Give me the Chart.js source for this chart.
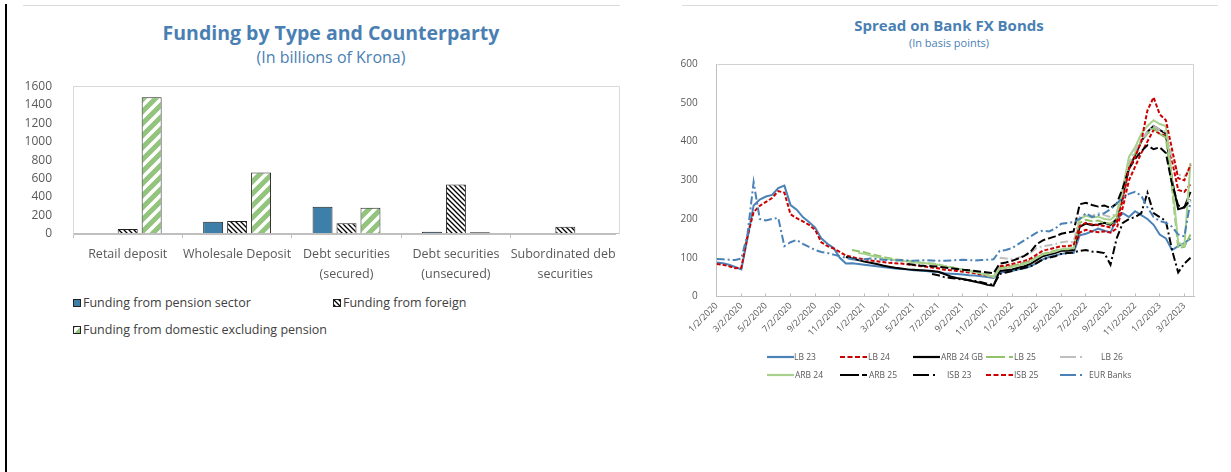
<!DOCTYPE html>
<html>
<head>
<meta charset="utf-8">
<script src="https://cdn.jsdelivr.net/npm/chart.js@4.4.1/dist/chart.umd.min.js"></script>
<style>
  html, body { margin: 0; padding: 0; background: #fff; }
  body { width: 1231px; height: 472px; position: relative; overflow: hidden; font-family: 'Open Sans', sans-serif; }
  .edge { position: absolute; left: 5px; top: 4px; bottom: 0; width: 2px; background: #000; }
  .rule { position: absolute; height: 1px; background: #dcdcdc; }
  .ttl { position: absolute; text-align: center; color: #4a7fb3; white-space: nowrap; }
  .lgtxt { position: absolute; white-space: nowrap; color: #404040; font-size: 12.5px; line-height: 16px; }
  .rltxt { position: absolute; white-space: nowrap; color: #595959; font-size: 8.5px; line-height: 12px; }
  canvas.abs, svg.abs { position: absolute; }
</style>
</head>
<body>
<div class="edge"></div>
<div class="rule" style="left:23px; width:597px; top:5px;"></div>
<div class="rule" style="left:682px; width:536px; top:5px;"></div>

<div class="ttl" style="left:0; width:662px; top:19px; font-size:19.5px; line-height:28px; font-weight:700;">Funding by Type and Counterparty</div>
<div class="ttl" style="left:0; width:662px; top:46px; font-size:16px; line-height:22px;">(In billions of Krona)</div>

<div class="ttl" style="left:749px; width:400px; top:15px; font-size:15px; line-height:20px; font-weight:700;">Spread on Bank FX Bonds</div>
<div class="ttl" style="left:749px; width:400px; top:36px; font-size:11px; line-height:14px;">(In basis points)</div>

<canvas id="funding" class="abs" width="605" height="215" style="left:20px; top:75px;"></canvas>
<canvas id="spreads" class="abs" width="551" height="300" style="left:680px; top:55px;"></canvas>

<div id="fundingLegend"></div>
<div id="spreadLegend"></div>

<script>
// ---- Funding by type and counterparty (billions of krona) ----
const fundingTypes = [
  'Retail deposit',
  'Wholesale Deposit',
  ['Debt securities', '(secured)'],
  ['Debt securities', '(unsecured)'],
  ['Subordinated debt', 'securities']
];
const pensionFunding  = [0, 133, 295, 25, 8];
const foreignFunding  = [54, 140, 116, 537, 79];
const domesticFunding = [1480, 667, 284, 20, 8];
const fundingTicks = { min: 0, max: 1600, step: 200 };

// ---- Spread on bank FX bonds (basis points), semi-monthly observations from 2 Jan 2020 ----
const tickDates = [
  '1/2/2020', '3/2/2020', '5/2/2020', '7/2/2020', '9/2/2020', '11/2/2020',
  '1/2/2021', '3/2/2021', '5/2/2021', '7/2/2021', '9/2/2021', '11/2/2021',
  '1/2/2022', '3/2/2022', '5/2/2022', '7/2/2022', '9/2/2022', '11/2/2022',
  '1/2/2023', '3/2/2023'
];
const lb23 = [
  88, 86, 82, 76, 70, 150, 235, 250, 258, 262,
  280, 286, 236, 224, 205, 192, 178, 150, 136,
  125, 100, 85, 86, 84, 82, 80, 78, 76, 74,
  72, 71, 70, 68, 67, 66, 64, 63, 60,
  59, 58, 57, 55, 54, 52, 50, 48, 62, 64,
  66, 70, 73, 78, 86, 96, 102, 106, 110,
  112, 112, 158, 162, 168, 175, 170, 165, 200, 215,
  205, 220, 210, 200, 185, 160, 150, 120, 130,
  138, 150
];
const lb24 = [
  84, 82, 78, 73, 74, 155, 218, 234, 244, 254,
  272, 268, 212, 202, 194, 185, 172, 140, 130,
  124, 115, 106, 102, 98, 96, 93, 91, 89, 87,
  86, 85, 83, 81, 79, 77, 75, 73, 69,
  68, 66, 64, 62, 60, 57, 54, 50, 72, 75,
  78, 82, 86, 92, 100, 108, 112, 115, 120,
  120, 122, 165, 172, 168, 166, 168, 165, 175, 230,
  300, 335, 370, 400, 430, 420, 415, 350, 275,
  270, 290
];
const arb24gb = [
  null, null, null, null, null, null, null, null, null, null,
  null, null, null, null, null, null, null, null, null,
  null, null, 102, 98, 94, 90, 87, 84, 80, 77,
  74, 72, 70, 69, 68, 67, 66, 64, 58,
  52, 48, 45, 42, 38, 35, 30, 28, 66, 68,
  70, 74, 78, 84, 94, 104, 108, 112, 118,
  118, 120, 180, 188, 184, 186, 190, 185, 200, 260,
  330, 365, 400, 425, 440, 430, 420, 300, 225,
  230, 270
];
const lb25 = [
  null, null, null, null, null, null, null, null, null, null,
  null, null, null, null, null, null, null, null, null,
  null, null, null, 120, 117, 114, 110, 106, 102, 99,
  96, 94, 92, 90, 88, 86, 85, 83, 79,
  76, 73, 70, 67, 64, 60, 56, 52, 74, 76,
  78, 82, 86, 92, 102, 110, 114, 118, 122,
  122, 124, 190, 198, 194, 196, 190, 188, 200, 265,
  340, 370, 400, 420, 435, 420, 410, 280, 125,
  128, 160
];
const lb26 = [
  null, null, null, null, null, null, null, null, null, null,
  null, null, null, null, null, null, null, null, null,
  null, null, null, null, null, null, null, null, null, null,
  null, null, null, null, null, null, null, null, null,
  null, null, null, null, null, null, null, null, 100, 98,
  96, 100, 105, 112, 125, 130, 132, 135, 140,
  142, 140, 205, 212, 208, 215, 210, 205, 215, 275,
  345, 375, 405, 425, 440, 430, 425, 360, 315,
  310, 330
];
const arb24 = [
  null, null, null, null, null, null, null, null, null, null,
  null, null, null, null, null, null, null, null, null,
  null, null, null, null, 112, 110, 106, 102, 99, 96,
  94, 92, 90, 88, 87, 86, 84, 82, 78,
  75, 72, 69, 66, 63, 59, 55, 50, 72, 74,
  76, 80, 84, 90, 100, 108, 112, 116, 122,
  124, 125, 200, 208, 204, 206, 200, 198, 212, 280,
  360, 385, 420, 440, 455, 445, 440, 300, 140,
  130, 345
];
const arb25 = [
  null, null, null, null, null, null, null, null, null, null,
  null, null, null, null, null, null, null, null, null,
  null, null, null, null, null, null, null, null, null, null,
  null, null, 84, 82, 80, 79, 78, 77, 75,
  73, 71, 69, 68, 66, 64, 62, 60, 85, 88,
  92, 98, 105, 115, 135, 145, 150, 155, 162,
  165, 168, 238, 242, 236, 232, 235, 228, 240, 280,
  330, 355, 375, 390, 380, 385, 370, 290, 235,
  230, 250
];
const isb23 = [
  null, null, null, null, null, null, null, null, null, null,
  null, null, null, null, null, null, null, null, null,
  null, null, null, null, null, null, null, null, null, null,
  null, null, null, null, null, null, 58, 55, 50,
  48, 46, 44, 42, 40, 37, 33, 30, 58, 62,
  66, 70, 74, 78, 86, 96, 100, 104, 110,
  112, 114, 118, 120, 116, 115, 112, 82, 150, 190,
  200, 205, 215, 268, 215, 205, 195, 120, 62,
  85, 100
];
const isb25 = [
  null, null, null, null, null, null, null, null, null, null,
  null, null, null, null, null, null, null, null, null,
  null, null, null, null, null, null, null, null, null, null,
  null, null, null, null, null, null, null, null, null,
  null, null, null, null, null, null, null, null, 78, 80,
  84, 88, 92, 98, 108, 118, 122, 126, 130,
  130, 132, 182, 190, 186, 184, 182, 178, 190, 250,
  330, 360, 400, 480, 514, 470, 455, 380, 305,
  300, 340
];
const eurBanks = [
  97, 96, 95, 94, 98, 160, 295, 200, 196, 200,
  203, 130, 140, 146, 136, 128, 120, 115, 112,
  108, 104, 100, 96, 95, 96, 98, 97, 95, 94,
  93, 94, 93, 92, 93, 94, 93, 92, 92,
  93, 94, 95, 94, 93, 94, 95, 96, 118, 120,
  125, 135, 145, 155, 165, 170, 168, 175, 188,
  190, 192, 200, 215, 205, 210, 215, 225, 240, 255,
  265, 270, 260, 230, 205, 195, 190, 180, 160,
  155, 245
];
// months elapsed since 2 Jan 2020 for each observation (two per month)
const obsMonth = lb23.map((_, j) => j / 2);

Chart.defaults.font.family = "'Open Sans', sans-serif";

// Fill patterns for the bars
function hatchFill() {
  const s = 5, c = document.createElement('canvas');
  c.width = c.height = s;
  const g = c.getContext('2d');
  g.fillStyle = '#fff'; g.fillRect(0, 0, s, s);
  g.strokeStyle = '#000'; g.lineWidth = 1.3;
  g.beginPath();
  g.moveTo(-1, -1); g.lineTo(s + 1, s + 1);
  g.moveTo(-1, s - 1); g.lineTo(1, s + 1);
  g.moveTo(s - 1, -1); g.lineTo(s + 1, 1);
  g.stroke();
  return g.createPattern(c, 'repeat');
}
function stripeFill() {
  const s = 12, c = document.createElement('canvas');
  c.width = c.height = s;
  const g = c.getContext('2d');
  g.fillStyle = '#fff'; g.fillRect(0, 0, s, s);
  g.strokeStyle = '#93c47d'; g.lineWidth = 5;
  g.beginPath();
  g.moveTo(-2, s + 2); g.lineTo(s + 2, -2);
  g.moveTo(-3, 3); g.lineTo(3, -3);
  g.moveTo(s - 3, s + 3); g.lineTo(s + 3, s - 3);
  g.stroke();
  return g.createPattern(c, 'repeat');
}
const hatch = hatchFill();
const stripes = stripeFill();

// Light frame round the plot area; optional clip just inside the right edge
const plotFrame = {
  id: 'plotFrame',
  beforeDraw(chart, args, opts) {
    if (opts.clipInset) {
      const ctx = chart.ctx;
      ctx.save();
      ctx.beginPath();
      ctx.rect(0, 0, chart.chartArea.right - opts.clipInset, chart.height);
      ctx.clip();
    }
  },
  afterDraw(chart, args, opts) {
    const ctx = chart.ctx;
    if (opts.clipInset) ctx.restore();
    const a = chart.chartArea;
    const l = Math.round(a.left) + 0.5, r = Math.round(a.right) - 0.5;
    const t = Math.round(a.top) + 0.5, b = Math.round(a.bottom) - 0.5;
    ctx.save();
    ctx.lineWidth = 1;
    ctx.strokeStyle = opts.color || '#d9d9d9';
    ctx.beginPath();
    ctx.moveTo(l, t); ctx.lineTo(r, t); ctx.lineTo(r, b);
    ctx.stroke();
    if (opts.baseColor) {
      ctx.strokeStyle = opts.baseColor;
      ctx.beginPath();
      ctx.moveTo(l, b); ctx.lineTo(r, b);
      ctx.stroke();
    }
    ctx.restore();
  }
};

// Size and place a canvas so that its plot area lands on the given page box
function placePlot(chart, box) {
  const cv = chart.canvas;
  for (let k = 0; k < 2; k++) {
    const a = chart.chartArea;
    const w = Math.round(cv.width + (box.right - box.left) - (a.right - a.left));
    const h = Math.round(cv.height + (box.bottom - box.top) - (a.bottom - a.top));
    if (w !== cv.width || h !== cv.height) chart.resize(w, h);
  }
  const a = chart.chartArea;
  cv.style.left = Math.round(box.left - a.left) + 'px';
  cv.style.top = Math.round(box.top - a.top) + 'px';
}

const fundingSeries = [
  { label: 'Funding from pension sector', data: pensionFunding, fill: '#3d7fa8' },
  { label: 'Funding from foreign', data: foreignFunding, fill: hatch },
  { label: 'Funding from domestic excluding pension', data: domesticFunding, fill: stripes }
];

const fundingChart = new Chart(document.getElementById('funding'), {
  type: 'bar',
  data: {
    labels: fundingTypes,
    datasets: fundingSeries.map(s => ({
      label: s.label,
      data: s.data,
      backgroundColor: s.fill,
      borderColor: '#222',
      borderWidth: 1,
      borderSkipped: false,
      categoryPercentage: 0.657,
      barPercentage: 0.833
    }))
  },
  options: {
    responsive: false,
    maintainAspectRatio: false,
    animation: false,
    events: [],
    layout: { padding: 0 },
    plugins: {
      legend: { display: false },
      tooltip: { enabled: false },
      plotFrame: { clipInset: 4, color: '#d9d9d9', baseColor: '#bfbfbf' }
    },
    scales: {
      x: {
        grid: { drawOnChartArea: false, tickLength: 4, color: '#bfbfbf', offset: true },
        border: { color: '#bfbfbf' },
        ticks: {
          color: '#595959',
          font: { size: 12.5, lineHeight: 1.6 },
          padding: 6,
          maxRotation: 0,
          autoSkip: false
        },
        afterFit: s => { s.height = 56; }
      },
      y: {
        min: fundingTicks.min,
        max: fundingTicks.max,
        ticks: {
          stepSize: fundingTicks.step,
          autoSkip: false,
          color: '#595959',
          font: { size: 12 },
          padding: 13,
          callback: v => String(v)
        },
        grid: { display: false },
        border: { color: '#d9d9d9' },
        afterFit: s => { s.width = 53; }
      }
    }
  },
  plugins: [plotFrame]
});
placePlot(fundingChart, { left: 73, top: 86, right: 620, bottom: 234 });

// Spread series with their line styles
const spreadSeries = [
  { label: 'LB 23',     data: lb23,     color: '#4a82b8', dash: [],           legendDash: '' },
  { label: 'LB 24',     data: lb24,     color: '#cc0000', dash: [4, 2],       legendDash: '5,2.5' },
  { label: 'ARB 24 GB', data: arb24gb,  color: '#000000', dash: [],           legendDash: '' },
  { label: 'LB 25',     data: lb25,     color: '#92c26b', dash: [8, 3],       legendDash: '19,4,5' },
  { label: 'LB 26',     data: lb26,     color: '#bfbfbf', dash: [8, 3, 2, 3], legendDash: '16,4,2,20' },
  { label: 'ARB 24',    data: arb24,    color: '#a9d18e', dash: [],           legendDash: '' },
  { label: 'ARB 25',    data: arb25,    color: '#000000', dash: [8, 3],       legendDash: '19,3,5' },
  { label: 'ISB 23',    data: isb23,    color: '#000000', dash: [8, 3, 2, 3], legendDash: '16,4,2,20' },
  { label: 'ISB 25',    data: isb25,    color: '#cc0000', dash: [4, 2],       legendDash: '5,2.5' },
  { label: 'EUR Banks', data: eurBanks, color: '#4a82b8', dash: [8, 3, 2, 3], legendDash: '16,4,2,20' }
];

const spreadChart = new Chart(document.getElementById('spreads'), {
  type: 'line',
  data: {
    labels: obsMonth,
    datasets: spreadSeries.map((s, i) => ({
      label: s.label,
      data: s.data,
      borderColor: s.color,
      backgroundColor: s.color,
      borderDash: s.dash,
      borderWidth: 2,
      pointRadius: 0,
      tension: 0,
      fill: false,
      order: spreadSeries.length - i
    }))
  },
  options: {
    responsive: false,
    maintainAspectRatio: false,
    animation: false,
    events: [],
    layout: { padding: 0 },
    plugins: {
      legend: { display: false },
      tooltip: { enabled: false },
      plotFrame: { color: '#d0d0d0' }
    },
    scales: {
      x: {
        type: 'linear',
        min: 0,
        max: 38.8,
        afterBuildTicks: s => { s.ticks = tickDates.map((_, k) => ({ value: 2 * k })); },
        ticks: {
          autoSkip: false,
          minRotation: 45,
          maxRotation: 45,
          color: '#595959',
          font: { size: 9 },
          padding: 7,
          callback: (v, i) => tickDates[i]
        },
        grid: { drawOnChartArea: false, tickLength: -3, color: '#bfbfbf' },
        border: { color: '#bfbfbf' },
        afterFit: s => { s.height = 59.5; }
      },
      y: {
        min: 0,
        max: 600,
        ticks: { stepSize: 100, autoSkip: false, color: '#595959', font: { size: 10 }, padding: 11, callback: v => String(v) },
        grid: { display: false },
        border: { color: '#bfbfbf' },
        afterFit: s => { s.width = 36.7; }
      }
    }
  },
  plugins: [plotFrame]
});
placePlot(spreadChart, { left: 717, top: 64, right: 1194, bottom: 296 });

// ---- Legends ----
function swatch(fill, x, y) {
  const c = document.createElement('canvas');
  c.width = 8; c.height = 8;
  c.className = 'abs';
  c.style.left = x + 'px'; c.style.top = y + 'px';
  const g = c.getContext('2d');
  g.fillStyle = fill; g.fillRect(0, 0, 8, 8);
  g.strokeStyle = '#222'; g.lineWidth = 1; g.strokeRect(0.5, 0.5, 7, 7);
  return c;
}
function textAt(cls, txt, x, y) {
  const d = document.createElement('div');
  d.className = cls; d.textContent = txt;
  d.style.left = x + 'px'; d.style.top = y + 'px';
  return d;
}
const fundingLegendPos = [[73, 303], [333, 303], [73, 330]];
const fl = document.getElementById('fundingLegend');
fundingSeries.forEach((s, i) => {
  const [x, yc] = fundingLegendPos[i];
  fl.appendChild(swatch(s.fill, x, yc - 4));
  fl.appendChild(textAt('lgtxt', s.label, x + 10, yc - 8));
});

const spreadLegendPos = [
  [767, 357, 27, 794], [840, 357, 27, 868], [913, 357, 27, 941], [986, 357, 27, 1014], [1060, 357, 24, 1101],
  [767, 375, 27, 795], [840, 375, 28, 869], [913, 375, 24, 947], [986, 375, 27, 1014], [1060, 375, 24, 1089]
];
const svgNS = 'http://www.w3.org/2000/svg';
const sl = document.getElementById('spreadLegend');
spreadSeries.forEach((s, i) => {
  const [x, yc, w, tx] = spreadLegendPos[i];
  const svg = document.createElementNS(svgNS, 'svg');
  svg.setAttribute('class', 'abs');
  svg.setAttribute('width', w); svg.setAttribute('height', 6);
  svg.style.left = x + 'px'; svg.style.top = (yc - 3) + 'px';
  const ln = document.createElementNS(svgNS, 'line');
  ln.setAttribute('x1', 0); ln.setAttribute('x2', w);
  ln.setAttribute('y1', 3); ln.setAttribute('y2', 3);
  ln.setAttribute('stroke', s.color); ln.setAttribute('stroke-width', 2.2);
  if (s.legendDash) ln.setAttribute('stroke-dasharray', s.legendDash);
  svg.appendChild(ln);
  sl.appendChild(svg);
  sl.appendChild(textAt('rltxt', s.label, tx, yc - 6));
});
</script>
</body>
</html>
